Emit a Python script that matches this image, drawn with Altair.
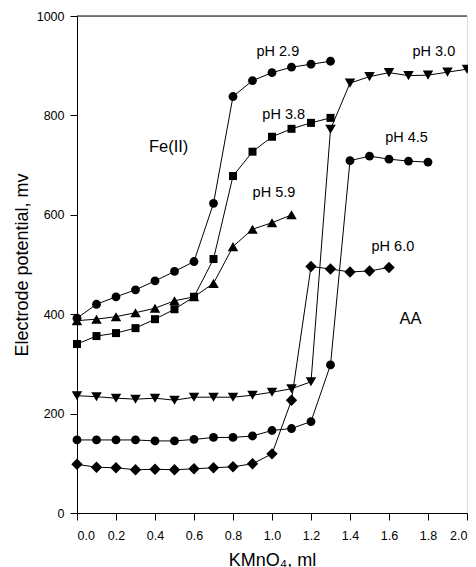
import altair as alt
import pandas as pd

# ---- data ----
x_a = [0.0, 0.1, 0.2, 0.3, 0.4, 0.5, 0.6, 0.7, 0.8, 0.9, 1.0, 1.1, 1.2, 1.3]
fe_ph29 = [392, 420, 435, 449, 467, 486, 506, 623, 838, 870, 886, 897, 903, 909]
fe_ph38 = [340, 356, 362, 372, 390, 410, 435, 511, 678, 727, 757, 773, 785, 795]
x_b = [0.0, 0.1, 0.2, 0.3, 0.4, 0.5, 0.6, 0.7, 0.8, 0.9, 1.0, 1.1]
fe_ph59 = [387, 390, 395, 403, 412, 427, 435, 462, 536, 571, 584, 600]

x_c = [0.0, 0.1, 0.2, 0.3, 0.4, 0.5, 0.6, 0.7, 0.8, 0.9, 1.0,
       1.1, 1.2, 1.3, 1.4, 1.5, 1.6, 1.7, 1.8, 1.9, 2.0]
aa_ph30 = [236, 234, 231, 229, 231, 227, 233, 233, 233, 237, 243,
           250, 264, 772, 865, 878, 886, 880, 881, 887, 893]
x_d = [0.0, 0.1, 0.2, 0.3, 0.4, 0.5, 0.6, 0.7, 0.8, 0.9, 1.0,
       1.1, 1.2, 1.3, 1.4, 1.5, 1.6, 1.7, 1.8]
aa_ph45 = [147, 147, 147, 147, 145, 145, 148, 152, 152, 155, 166,
           170, 184, 298, 709, 718, 712, 708, 706]
x_e = [0.0, 0.1, 0.2, 0.3, 0.4, 0.5, 0.6, 0.7, 0.8, 0.9, 1.0,
       1.1, 1.2, 1.3, 1.4, 1.5, 1.6]
aa_ph60 = [98, 92, 91, 87, 88, 87, 89, 91, 93, 99, 119,
           227, 496, 491, 485, 487, 494]

series_names = ["Fe pH 2.9", "Fe pH 3.8", "Fe pH 5.9", "AA pH 3.0", "AA pH 4.5", "AA pH 6.0"]
series_shapes = ["circle", "square", "triangle-up", "triangle-down", "circle", "diamond"]
series_sizes = [78, 64, 110, 110, 78, 130]

x_ticks = [0.0, 0.2, 0.4, 0.6, 0.8, 1.0, 1.2, 1.4, 1.6, 1.8, 2.0]
y_ticks = [0, 200, 400, 600, 800, 1000]

label_text = ["pH 2.9", "pH 3.0", "pH 3.8", "pH 4.5", "pH 5.9", "pH 6.0"]
label_x = [1.03, 1.83, 1.06, 1.69, 1.01, 1.62]
label_y = [928, 928, 801, 754, 644, 536]

big_text = ["Fe(II)", "AA"]
big_x = [0.47, 1.71]
big_y = [736, 390]

# ---- build table ----
rows = []
for name, xs, ys in [
    ("Fe pH 2.9", x_a, fe_ph29),
    ("Fe pH 3.8", x_a, fe_ph38),
    ("Fe pH 5.9", x_b, fe_ph59),
    ("AA pH 3.0", x_c, aa_ph30),
    ("AA pH 4.5", x_d, aa_ph45),
    ("AA pH 6.0", x_e, aa_ph60),
]:
    for xv, yv in zip(xs, ys):
        rows.append({"series": name, "x": xv, "y": yv})
df = pd.DataFrame(rows)

labels = pd.DataFrame({"t": label_text, "x": label_x, "y": label_y})
bigl = pd.DataFrame({"t": big_text, "x": big_x, "y": big_y})

FONT = "Liberation Sans"

xscale = alt.Scale(domain=[0, 2.0], nice=False, zero=False)
yscale = alt.Scale(domain=[0, 1000], nice=False)

xaxis = alt.Axis(title="KMnO₄, ml", values=x_ticks, labelOverlap=False,
                 format=".1f", grid=False, tickSize=7, labelPadding=9,
                 titlePadding=10, labelFontSize=12.5, titleFontSize=18,
                 domainColor="black", tickColor="black", labelColor="black",
                 titleColor="black", titleFontWeight="normal")
yaxis = alt.Axis(title="Electrode potential, mv", values=y_ticks, labelOverlap=False,
                 format="d", grid=False, tickSize=7, labelPadding=6,
                 titlePadding=5, labelFontSize=12.5, titleFontSize=18,
                 domainColor="black", tickColor="black", labelColor="black",
                 titleColor="black", titleFontWeight="normal")


def X():
    return alt.X("x:Q", scale=xscale, axis=xaxis)


def Y():
    return alt.Y("y:Q", scale=yscale, axis=yaxis)


base = alt.Chart(df)
lines = base.mark_line(color="black", strokeWidth=1).encode(
    x=X(), y=Y(), detail="series:N", order="x:Q")

point_layers = []
for name, shp, sz in zip(series_names, series_shapes, series_sizes):
    point_layers.append(
        base.transform_filter(alt.datum.series == name)
        .mark_point(filled=True, opacity=1, color="black", shape=shp, size=sz)
        .encode(x=X(), y=Y())
    )

txt = alt.Chart(labels).mark_text(font=FONT, fontSize=14.5, color="black").encode(
    x=X(), y=Y(), text="t:N")
txt2 = alt.Chart(bigl).mark_text(font=FONT, fontSize=16.5, color="black").encode(
    x=X(), y=Y(), text="t:N")

top = alt.Chart(pd.DataFrame({"a": [0]})).mark_rule(color="black", strokeWidth=1).encode(
    x=alt.value(0), x2=alt.value(390), y=alt.value(0))

chart = alt.layer(lines, *point_layers, txt, txt2, top).properties(
    width=390, height=497,
    autosize=alt.AutoSizeParams(type="none"),
    padding={"left": 69, "top": 8, "right": 1, "bottom": 54},
).configure_view(stroke="#777", strokeWidth=1).configure(
    font=FONT
).configure_axis(labelFont=FONT, titleFont=FONT, labelOverlap=False)

chart.save("out.html", embed_options={"renderer": "svg", "actions": False})
